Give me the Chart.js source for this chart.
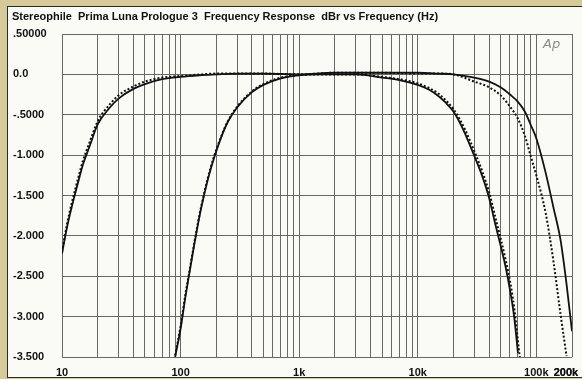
<!DOCTYPE html>
<html>
<head>
<meta charset="utf-8">
<script src="https://cdn.jsdelivr.net/npm/chart.js"></script>
<style>
  html, body { margin: 0; padding: 0; width: 582px; height: 379px; overflow: hidden; background: #d6ca98; }
  #panel { position: absolute; left: 7px; top: 6px; width: 600px; height: 370px; background: #fbfbf6; border: 1px solid #2a2a2a; border-right: none; }
  #chart { display: block; }
</style>
</head>
<body>
<div id="panel"><canvas id="chart" width="600" height="370"></canvas></div>
<script>
// Wide-band response (10Hz - 200kHz), solid = left, dotted = right
const wideFreq = [10, 11, 12, 13, 14, 15, 17, 20, 25, 30, 40, 50, 70, 100, 150, 200, 300, 500, 1000, 2000, 5000, 10000, 15000, 20000, 30000, 40000, 50000, 60000, 70000, 80000, 90000, 100000, 120000, 140000, 160000, 180000, 200000];
const wideLeft = [-2.22, -1.9, -1.66, -1.46, -1.28, -1.12, -0.9, -0.62, -0.42, -0.3, -0.18, -0.12, -0.06, -0.03, -0.01, 0.0, 0.01, 0.01, 0.0, 0.02, 0.02, 0.02, 0.01, 0.0, -0.04, -0.09, -0.16, -0.25, -0.34, -0.46, -0.63, -0.79, -1.22, -1.66, -2.05, -2.6, -3.18];
const wideRight = [-2.2, -1.86, -1.61, -1.41, -1.23, -1.07, -0.85, -0.58, -0.38, -0.26, -0.15, -0.09, -0.04, -0.02, 0.0, 0.01, 0.01, 0.01, 0.0, 0.02, 0.02, 0.01, 0.01, 0.0, -0.09, -0.16, -0.26, -0.4, -0.55, -0.76, -1.02, -1.25, -1.72, -2.33, -2.97, -3.49, null];

// Band-limited response, solid = left, dotted = right
const bandFreq = [90, 100, 110, 120, 130, 140, 150, 170, 190, 220, 250, 300, 400, 500, 700, 1000, 1500, 2000, 3000, 5000, 7000, 10000, 12500, 15000, 17500, 20000, 22500, 25000, 30000, 35000, 40000, 45000, 50000, 55000, 60000, 65000, 70000, 72500];
const bandLeft = [-3.5, -3.15, -2.75, -2.42, -2.12, -1.86, -1.64, -1.3, -1.05, -0.78, -0.59, -0.41, -0.22, -0.13, -0.05, -0.01, 0.0, 0.0, 0.0, -0.04, -0.07, -0.13, -0.19, -0.27, -0.36, -0.46, -0.59, -0.73, -1.01, -1.26, -1.53, -1.85, -2.12, -2.38, -2.67, -3.0, -3.45, null];
const bandRight = [-3.48, -3.12, -2.72, -2.4, -2.1, -1.84, -1.62, -1.28, -1.03, -0.77, -0.58, -0.4, -0.21, -0.12, -0.04, -0.01, 0.0, 0.0, 0.0, -0.03, -0.06, -0.11, -0.17, -0.24, -0.33, -0.43, -0.55, -0.68, -0.95, -1.2, -1.46, -1.76, -2.03, -2.29, -2.56, -2.88, -3.3, -3.5];

const yTickValues = [0.5, 0, -0.5, -1, -1.5, -2, -2.5, -3, -3.5];
const yTickLabels = ['.50000', '0.0', '-.5000', '-1.000', '-1.500', '-2.000', '-2.500', '-3.000', '-3.500'];
const xLabelValues = [10, 100, 1000, 10000, 100000, 200000];
const xLabelTexts = ['10', '100', '1k', '10k', '100k', '200k'];

const titleText = 'Stereophile  Prima Luna Prologue 3  Frequency Response  dBr vs Frequency (Hz)';

// grid lines at 1..9 x each decade, up to 200k
const xGridValues = [];
for (let d = 10; d <= 100000; d *= 10) {
    for (let m = 1; m <= 9; m++) {
        xGridValues.push(m * d);
    }
}
xGridValues.push(200000);

function toPoints(freqs, values) {
    return freqs.map((f, i) => ({ x: f, y: values[i] }));
}

Chart.defaults.font.family = '"Liberation Sans", Arial, sans-serif';
Chart.defaults.color = '#111';

const titlePlugin = {
    id: 'titleAndLogo',
    afterDraw(chart) {
        const ctx = chart.ctx;
        ctx.save();
        ctx.fillStyle = '#111';
        ctx.font = 'bold 11px "Liberation Sans", Arial, sans-serif';
        ctx.textBaseline = 'middle';
        ctx.textAlign = 'left';
        ctx.fillText(titleText, 4, 10);
        // Audio Precision logo
        ctx.fillStyle = '#8a8a8a';
        ctx.font = 'italic 13px "DejaVu Sans", sans-serif';
        ctx.textBaseline = 'alphabetic';
        ctx.fillText('Ap', chart.chartArea.right - 29, chart.chartArea.top + 14);
        ctx.restore();
    }
};

const gridColor = '#686868';

const ctx = document.getElementById('chart').getContext('2d');
const chart = new Chart(ctx, {
    type: 'scatter',
    data: {
        datasets: [
            {
                label: 'wide L',
                data: toPoints(wideFreq, wideLeft),
                borderColor: '#111',
                borderWidth: 1.8
            },
            {
                label: 'wide R',
                data: toPoints(wideFreq, wideRight),
                borderColor: '#111',
                borderWidth: 2,
                borderDash: [2, 2]
            },
            {
                label: 'band L',
                data: toPoints(bandFreq, bandLeft),
                borderColor: '#111',
                borderWidth: 1.8
            },
            {
                label: 'band R',
                data: toPoints(bandFreq, bandRight),
                borderColor: '#111',
                borderWidth: 2,
                borderDash: [2, 2]
            }
        ]
    },
    options: {
        responsive: false,
        animation: false,
        showLine: true,
        elements: {
            point: { radius: 0, hoverRadius: 0 },
            line: { cubicInterpolationMode: 'monotone', fill: false }
        },
        layout: { padding: { left: 5, right: 36, top: 27, bottom: 0 } },
        plugins: {
            legend: { display: false },
            tooltip: { enabled: false },
            title: { display: false }
        },
        scales: {
            x: {
                type: 'logarithmic',
                min: 10,
                max: 200000,
                afterBuildTicks: scale => {
                    scale.ticks = xGridValues.map(v => ({ value: v }));
                },
                afterFit: scale => { scale.height = 20; },
                grid: { color: gridColor, lineWidth: 1, drawTicks: false },
                border: { display: false },
                ticks: {
                    autoSkip: false,
                    maxRotation: 0,
                    padding: 9,
                    font: { size: 11, weight: 'bold' },
                    callback: value => {
                        const i = xLabelValues.indexOf(value);
                        if (i < 0) return '';
                        // last label sits left of its line, as in the original print
                        return i === xLabelValues.length - 1 ? xLabelTexts[i] + '    ' : xLabelTexts[i];
                    }
                }
            },
            y: {
                min: -3.5,
                max: 0.5,
                afterBuildTicks: scale => {
                    scale.ticks = yTickValues.map(v => ({ value: v }));
                },
                afterFit: scale => { scale.width = 49; },
                grid: { color: gridColor, lineWidth: 1, drawTicks: false },
                border: { display: false },
                ticks: {
                    crossAlign: 'far',
                    font: { size: 11, weight: 'bold' },
                    callback: value => {
                        const i = yTickValues.indexOf(value);
                        return i >= 0 ? yTickLabels[i] : '';
                    }
                }
            }
        }
    },
    plugins: [titlePlugin]
});
</script>
</body>
</html>
